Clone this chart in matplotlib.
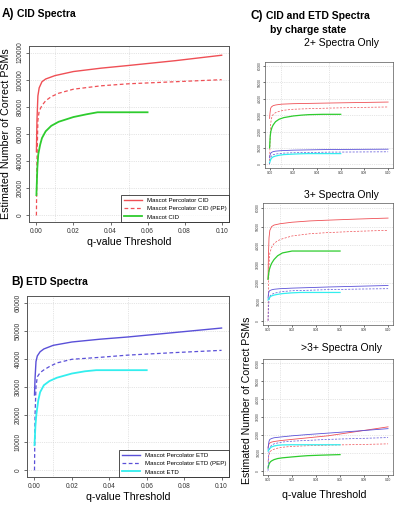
import numpy as np
import matplotlib.pyplot as plt

plt.rcParams['font.family'] = ['Liberation Sans', 'DejaVu Sans']

# ---- panel A: CID spectra
q_perc = [0.0, 0.0003, 0.0008, 0.0015, 0.003, 0.005, 0.01, 0.02, 0.035, 0.05, 0.075, 0.1]
cid_perc = [47000, 70000, 88000, 94000, 98500, 100500, 103000, 106000, 108500, 110500, 114000, 118000]
q_pep = [0.0, 0.0003, 0.0008, 0.0015, 0.003, 0.005, 0.008, 0.012, 0.02, 0.035, 0.05, 0.075, 0.1]
cid_pep = [0, 40000, 70000, 77000, 81000, 84500, 87500, 90000, 93000, 95500, 97000, 98500, 100000]
q_masc = [0.0, 0.0005, 0.001, 0.002, 0.003, 0.005, 0.008, 0.012, 0.02, 0.027, 0.033, 0.045, 0.06]
cid_masc = [15000, 35000, 45000, 52000, 57000, 62000, 66000, 69000, 72500, 74500, 76000, 76000, 76000]

# ---- panel B: ETD spectra
etd_perc = [27000, 33000, 39000, 41000, 42500, 43500, 44800, 46000, 47000, 47800, 49400, 51000]
etd_pep = [0, 20000, 30000, 33500, 35000, 36000, 37200, 38500, 39800, 40500, 41300, 42200, 43000]
etd_masc = [9000, 16000, 20000, 25000, 28000, 30500, 32000, 33200, 34700, 35500, 35900, 35900, 35900]

# ---- panel C: by charge state (percolator, PEP, mascot for CID then ETD)
titles_c = ['2+ Spectra Only', '3+ Spectra Only', '>3+ Spectra Only']
c_cid_perc = [
    [28000, 31000, 34000, 35000, 35800, 36200, 36700, 37000, 37200, 37400, 37700, 38000],
    [22000, 34000, 44000, 48000, 50000, 50800, 51500, 52300, 53000, 53400, 54000, 54500],
    [13000, 14000, 15000, 15500, 16000, 16300, 16800, 17500, 18500, 19500, 22000, 24500],
]
c_cid_pep = [
    [0, 12000, 24000, 28000, 30500, 31500, 32300, 33000, 33600, 34000, 34300, 34700, 35000],
    [0, 15000, 30000, 36000, 39000, 41000, 42500, 43500, 45000, 46200, 46800, 47500, 48000],
    [5000, 7000, 9000, 10500, 11500, 12000, 12600, 13100, 13600, 14000, 14300, 14600, 15000],
]
c_cid_masc = [
    [10000, 17000, 20000, 22500, 24000, 26000, 27500, 28500, 29500, 30000, 30300, 30500, 30500],
    [22000, 25000, 27000, 29000, 30500, 32500, 34500, 36000, 37000, 37000, 37000, 37000, 37000],
    [1500, 3000, 4000, 5000, 5500, 6200, 6800, 7200, 7700, 8100, 8400, 8700, 9000],
]
c_etd_perc = [
    [4000, 5500, 6500, 7200, 7700, 8000, 8300, 8600, 8800, 9000, 9100, 9200],
    [12000, 14000, 15500, 16000, 16400, 16700, 17000, 17300, 17600, 17900, 18300, 18700],
    [12000, 14000, 16500, 17500, 18000, 18400, 18800, 19500, 20300, 21000, 22200, 23500],
]
c_etd_pep = [
    [0, 2500, 4000, 5000, 5800, 6200, 6500, 6800, 7000, 7200, 7400, 7500, 7600],
    [0, 6000, 11000, 13000, 14000, 14500, 15000, 15500, 15900, 16200, 16500, 16800, 17000],
    [0, 6000, 11000, 13000, 14300, 15000, 15500, 16000, 16500, 17000, 17500, 18000, 18500],
]
c_etd_masc = [
    [1000, 2000, 3000, 4000, 4500, 5000, 5500, 5900, 6200, 6400, 6500, 6500, 6500],
    [11000, 11500, 12000, 12800, 13200, 13600, 14000, 14400, 14800, 15000, 15000, 15000, 15000],
    [11000, 11500, 12000, 12800, 13300, 13800, 14200, 14400, 14500, 14500, 14500, 14500, 14500],
]

red = '#ef4f55'
green = '#2ecc2e'
blue = '#5a50d8'
cyan = '#33eeee'

fig = plt.figure(figsize=(4.05, 5.05), dpi=100)


def style_axes(ax, ymax, ystep, tick_fs, lw_frame=0.7):
    ax.set_xlim(-0.004, 0.104)
    ax.set_ylim(-ymax * 0.04, ymax * 1.04)
    ax.set_xticks(np.arange(0, 0.101, 0.02))
    ax.set_xticklabels(['%.2f' % v for v in np.arange(0, 0.101, 0.02)])
    ax.set_yticks(np.arange(0, ymax + 1, ystep))
    ax.set_yticklabels([str(int(v)) for v in np.arange(0, ymax + 1, ystep)],
                       rotation=90, va='center')
    ax.tick_params(labelsize=tick_fs, length=2, width=0.5, pad=2, colors='#333333')
    for s in ax.spines.values():
        s.set_color('#555555')
        s.set_linewidth(lw_frame)
    for y in np.arange(0, ymax + 1, ystep):
        ax.axhline(y, color='#cccccc', lw=0.5, ls=':', zorder=0)
    for x in (0.01, 0.05):
        ax.axvline(x, color='#cccccc', lw=0.5, ls=':', zorder=0)


# A
axA = fig.add_axes([0.0716, 0.5604, 0.494, 0.3485])
axA.plot(q_perc, cid_perc, color=red, lw=1.0, label='Mascot Percolator CID')
axA.plot(q_pep, cid_pep, color=red, lw=0.9, ls=(0, (3, 2)), label='Mascot Percolator CID (PEP)')
axA.plot(q_masc, cid_masc, color=green, lw=1.3, label='Mascot CID')
style_axes(axA, 120000, 20000, 4.8)
axA.set_xlabel('q-value Threshold', fontsize=7.6, labelpad=2)
axA.set_ylabel('Estimated Number of Correct PSMs', fontsize=7.7, labelpad=4)
leg = axA.legend(loc='lower right', fontsize=4.4, frameon=True, fancybox=False,
                 borderaxespad=0, handlelength=3, edgecolor='#222222')
leg.get_frame().set_linewidth(0.7)
fig.text(0.005, 0.972, 'A)', fontsize=8.5, fontweight='bold', va='center')
fig.text(0.042, 0.972, 'CID Spectra', fontsize=7.5, fontweight='bold', va='center')

# B
axB = fig.add_axes([0.0667, 0.0554, 0.4988, 0.358])
axB.plot(q_perc, etd_perc, color=blue, lw=1.0, label='Mascot Percolator ETD')
axB.plot(q_pep, etd_pep, color=blue, lw=0.9, ls=(0, (3, 2)), label='Mascot Percolator ETD (PEP)')
axB.plot(q_masc, etd_masc, color=cyan, lw=1.3, label='Mascot ETD')
style_axes(axB, 60000, 10000, 4.8)
axB.set_xlabel('q-value Threshold', fontsize=7.6, labelpad=2)
leg = axB.legend(loc='lower right', fontsize=4.4, frameon=True, fancybox=False,
                 borderaxespad=0, handlelength=3, edgecolor='#222222')
leg.get_frame().set_linewidth(0.7)
fig.text(0.027, 0.441, 'B)', fontsize=8.5, fontweight='bold', va='center')
fig.text(0.065, 0.441, 'ETD Spectra', fontsize=7.5, fontweight='bold', va='center')

# C
fig.text(0.618, 0.968, 'C)', fontsize=8.5, fontweight='bold', va='center')
fig.text(0.656, 0.968, 'CID and ETD Spectra', fontsize=7.5, fontweight='bold', va='center')
fig.text(0.666, 0.941, 'by charge state', fontsize=7.5, fontweight='bold', va='center')

c_rects = [[0.654, 0.667, 0.316, 0.21],
           [0.650, 0.356, 0.320, 0.2416],
           [0.650, 0.0594, 0.320, 0.2297]]
c_title_y = [0.914, 0.613, 0.310]
for i, rect in enumerate(c_rects):
    ax = fig.add_axes(rect)
    ax.plot(q_perc, c_cid_perc[i], color=red, lw=0.6)
    ax.plot(q_pep, c_cid_pep[i], color=red, lw=0.5, ls=(0, (3, 2)))
    ax.plot(q_masc, c_cid_masc[i], color=green, lw=0.9)
    ax.plot(q_perc, c_etd_perc[i], color=blue, lw=0.6)
    ax.plot(q_pep, c_etd_pep[i], color=blue, lw=0.5, ls=(0, (3, 2)))
    ax.plot(q_masc, c_etd_masc[i], color=cyan, lw=0.9)
    style_axes(ax, 60000, 10000, 2.3, lw_frame=0.5)
    ax.tick_params(length=1.2, pad=1)
    fig.text(0.843, c_title_y[i], titles_c[i], fontsize=7.5, ha='center', va='center')

fig.text(0.61, 0.208, 'Estimated Number of Correct PSMs', fontsize=7.6,
         rotation=90, ha='center', va='center')
fig.text(0.80, 0.02, 'q-value Threshold', fontsize=7.6, ha='center', va='center')

fig.savefig('out.png', dpi=100)
